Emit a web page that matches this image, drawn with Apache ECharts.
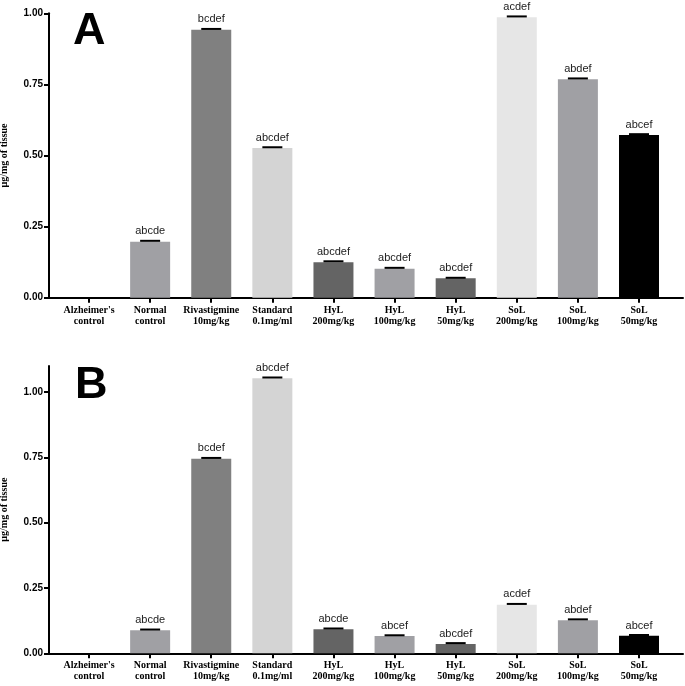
<!DOCTYPE html>
<html>
<head>
<meta charset="utf-8">
<script src="https://cdn.jsdelivr.net/npm/echarts@6/dist/echarts.min.js"></script>
<style>
  html, body { margin: 0; padding: 0; background: #fff; }
  #main { width: 685px; height: 686px; }
</style>
</head>
<body>
<div id="main"></div>
<script>
var categories = ["Alzheimer's\ncontrol", 'Normal\ncontrol', 'Rivastigmine\n10mg/kg', 'Standard\n0.1mg/ml',
  'HyL\n200mg/kg', 'HyL\n100mg/kg', 'HyL\n50mg/kg', 'SoL\n200mg/kg', 'SoL\n100mg/kg', 'SoL\n50mg/kg'];
var barColors = ['#ffffff', '#a0a0a4', '#808080', '#d4d4d4', '#646464', '#a0a0a4', '#646464', '#e6e6e6', '#a0a0a4', '#000000'];

// panel A
var valuesA = [0, 0.197, 0.942, 0.526, 0.125, 0.102, 0.068, 0.986, 0.768, 0.572];
var errA = [0, 0.003, 0.003, 0.003, 0.003, 0.003, 0.002, 0.003, 0.003, 0.003];
var lettersA = ['', 'abcde', 'bcdef', 'abcdef', 'abcdef', 'abcdef', 'abcdef', 'acdef', 'abdef', 'abcef'];

// panel B
var valuesB = [0, 0.088, 0.745, 1.053, 0.092, 0.066, 0.036, 0.186, 0.127, 0.067];
var errB = [0, 0.003, 0.003, 0.003, 0.003, 0.003, 0.003, 0.003, 0.003, 0.003];
var lettersB = ['', 'abcde', 'bcdef', 'abcdef', 'abcde', 'abcef', 'abcdef', 'acdef', 'abdef', 'abcef'];

var yTicks = [0, 0.25, 0.5, 0.75, 1.0];
var catIdx = [0, 1, 2, 3, 4, 5, 6, 7, 8, 9];

var myChart = echarts.init(document.getElementById('main'));

function xAxisFor(gridIndex) {
  return {
    type: 'value',
    gridIndex: gridIndex,
    min: -0.655,
    max: 9.72,
    splitLine: { show: false },
    axisLine: { onZero: false, lineStyle: { color: '#000', width: 2 } },
    axisTick: { customValues: catIdx, length: 5, lineStyle: { color: '#000', width: 2 } },
    axisLabel: {
      customValues: catIdx,
      formatter: function (v) { return categories[v]; },
      fontFamily: 'Liberation Serif',
      fontWeight: 'bold',
      fontSize: 10,
      lineHeight: 11,
      color: '#000',
      margin: 7
    }
  };
}

function yAxisFor(gridIndex, max) {
  return {
    type: 'value',
    gridIndex: gridIndex,
    min: 0,
    max: max,
    name: 'µg/mg of tissue',
    nameLocation: 'middle',
    nameGap: 40,
    nameTextStyle: { fontFamily: 'Liberation Serif', fontWeight: 'bold', fontSize: 10, color: '#000' },
    splitLine: { show: false },
    axisLine: { show: true, onZero: false, lineStyle: { color: '#000', width: 2 } },
    axisTick: { show: true, customValues: yTicks, length: 5, lineStyle: { color: '#000', width: 2 } },
    axisLabel: {
      customValues: yTicks,
      formatter: function (v) { return v.toFixed(2); },
      fontFamily: 'Liberation Sans',
      fontWeight: 'bold',
      fontSize: 10,
      color: '#000',
      margin: 6
    }
  };
}

function barSeries(idx, values) {
  return {
    type: 'bar',
    xAxisIndex: idx,
    yAxisIndex: idx,
    barWidth: 40,
    data: values.map(function (v, i) {
      return { value: [i, v], itemStyle: { color: barColors[i] } };
    })
  };
}

function capSeries(idx, values, errs, letters) {
  return {
    type: 'custom',
    xAxisIndex: idx,
    yAxisIndex: idx,
    data: values.map(function (v, i) { return [i, v + errs[i], letters[i]]; }),
    renderItem: function (params, api) {
      var i = api.value(0);
      if (!letters[i]) return null;
      var p = api.coord([i, api.value(1)]);
      return {
        type: 'group',
        children: [
          { type: 'line', shape: { x1: p[0] - 10, y1: p[1], x2: p[0] + 10, y2: p[1] },
            style: { stroke: '#000', lineWidth: 2 } },
          { type: 'text', x: p[0], y: p[1] - 4,
            style: { text: letters[i], align: 'center', verticalAlign: 'bottom',
              font: '11px "Liberation Sans"', fill: '#222' } }
        ]
      };
    },
    z: 3
  };
}

var option = {
  animation: false,
  title: [
    { text: 'A', left: 73, top: 9, padding: 0,
      textStyle: { fontFamily: 'Liberation Sans', fontWeight: 'bold', fontSize: 45, color: '#000', lineHeight: 45 } },
    { text: 'B', left: 75, top: 363, padding: 0,
      textStyle: { fontFamily: 'Liberation Sans', fontWeight: 'bold', fontSize: 45, color: '#000', lineHeight: 45 } }
  ],
  grid: [
    { left: 49, right: 2, top: 13.3, height: 284.4, outerBoundsMode: 'none' },
    { left: 49, right: 2, top: 366, height: 287.3, outerBoundsMode: 'none' }
  ],
  xAxis: [xAxisFor(0), xAxisFor(1)],
  yAxis: [yAxisFor(0, 1.0), yAxisFor(1, 1.1)],
  series: [
    barSeries(0, valuesA),
    capSeries(0, valuesA, errA, lettersA),
    barSeries(1, valuesB),
    capSeries(1, valuesB, errB, lettersB)
  ]
};
myChart.setOption(option);
</script>
</body>
</html>
